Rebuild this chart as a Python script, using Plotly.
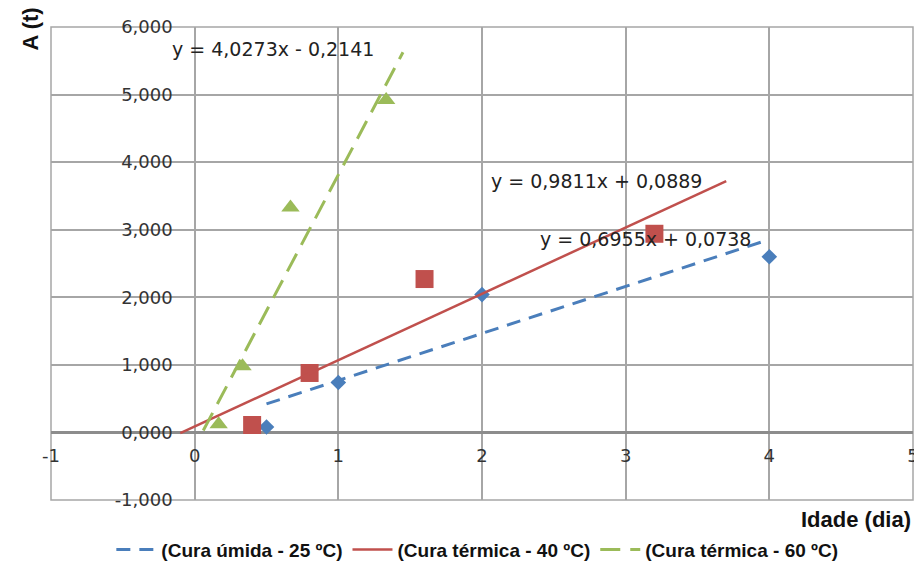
import plotly.graph_objects as go

# ---- data ----
umida_x = [0.5, 1.0, 2.0, 4.0]
umida_y = [0.08, 0.74, 2.04, 2.60]
t40_x = [0.4, 0.8, 1.6, 3.2]
t40_y = [0.11, 0.88, 2.27, 2.94]
t60_x = [0.167, 0.333, 0.667, 1.333]
t60_y = [0.12, 0.98, 3.33, 4.92]

# trendline equations (as printed on the chart)
umida_fit = (0.6955, 0.0738)
t40_fit = (0.9811, 0.0889)
t60_fit = (4.0273, -0.2141)
umida_span = [0.5, 4.0]
t40_span = [-0.1, 3.7]
t60_span = [0.06, 1.45]

names = ["(Cura úmida - 25 ºC)", "(Cura térmica - 40 ºC)", "(Cura térmica - 60 ºC)"]
eq_texts = ["y = 0,6955x + 0,0738", "y = 0,9811x + 0,0889", "y = 4,0273x - 0,2141"]

x_ticks = [-1, 0, 1, 2, 3, 4, 5]
y_ticks = [-1, 0, 1, 2, 3, 4, 5, 6]
y_ticktext = ["-1,000", "0,000", "1,000", "2,000", "3,000", "4,000", "5,000", "6,000"]

BLUE = "#4A7EBB"
RED = "#C0504D"
GREEN = "#9BBB59"

fig = go.Figure()

# markers
fig.add_trace(go.Scatter(x=umida_x, y=umida_y, mode="markers", showlegend=False,
                         marker=dict(symbol="diamond", size=12, color=BLUE), hoverinfo="skip"))
fig.add_trace(go.Scatter(x=t40_x, y=t40_y, mode="markers", showlegend=False,
                         marker=dict(symbol="square", size=18, color=RED), hoverinfo="skip"))
fig.add_trace(go.Scatter(x=t60_x, y=t60_y, mode="markers", showlegend=False,
                         marker=dict(symbol="triangle-up", size=16, color=GREEN), hoverinfo="skip"))

def line_pts(fit, span):
    a, b = fit
    return span, [a * v + b for v in span]

for fit, span, color, dash, width, name in [
    (umida_fit, umida_span, BLUE, "14px,9px", 3, names[0]),
    (t40_fit, t40_span, RED, "solid", 2.5, names[1]),
    (t60_fit, t60_span, GREEN, "20px,10px", 3, names[2]),
]:
    lx, ly = line_pts(fit, span)
    fig.add_trace(go.Scatter(x=lx, y=ly, mode="lines", name=name,
                             line=dict(color=color, dash=dash, width=width)))

ann_font = dict(family="DejaVu Sans", size=19, color="#222222")
annotations = [
    dict(x=-0.174, y=5.68, text=eq_texts[2]),
    dict(x=2.05, y=3.72, text=eq_texts[1]),
    dict(x=2.39, y=2.87, text=eq_texts[0]),
]
for a in annotations:
    a.update(xref="x", yref="y", xanchor="left", yanchor="middle", showarrow=False, font=ann_font)

annotations.append(dict(xref="paper", yref="paper", x=-0.024, y=1.045, text="A (t)", textangle=-90,
                        xanchor="center", yanchor="top", showarrow=False,
                        font=dict(family="Liberation Sans", size=22, color="#111111", weight="bold")))
annotations.append(dict(xref="paper", yref="paper", x=1.0, y=-0.042, text="Idade (dia)",
                        xanchor="right", yanchor="middle", showarrow=False,
                        font=dict(family="Liberation Sans", size=22, color="#111111", weight="bold")))

tick_font = dict(family="DejaVu Sans", size=18, color="#333333")

fig.update_layout(
    width=914, height=563,
    margin=dict(l=51, r=1, t=27, b=63, autoexpand=False),
    paper_bgcolor="white", plot_bgcolor="white",
    xaxis=dict(range=[-1, 5], tickvals=x_ticks, ticktext=[str(v) for v in x_ticks],
               showgrid=True, gridcolor="#A6A6A6", gridwidth=1.5, zeroline=False,
               showline=False, anchor="free", position=1/7, ticks="", ticklabelstandoff=11,
               ticklabeloverflow="allow", automargin=False, tickfont=tick_font),
    yaxis=dict(range=[-1, 6], tickvals=y_ticks, ticktext=y_ticktext,
               showgrid=True, gridcolor="#A6A6A6", gridwidth=1.5,
               zeroline=True, zerolinecolor="#8C8C8C", zerolinewidth=2.5,
               showline=False, anchor="free", position=1/6, ticks="", ticklabelstandoff=22,
               automargin=False, tickfont=tick_font),
    legend=dict(orientation="h", x=0.07, xanchor="left", y=-0.105, yanchor="middle",
                itemwidth=40,
                font=dict(family="Liberation Sans", size=19, color="#111111", weight="bold"),
                bgcolor="rgba(0,0,0,0)"),
    annotations=annotations,
    shapes=[dict(type="rect", xref="paper", yref="paper", x0=0, y0=0, x1=1, y1=1,
                 line=dict(color="#A6A6A6", width=1.5), layer="below")],
    showlegend=True,
)

fig.write_html("out.html")
